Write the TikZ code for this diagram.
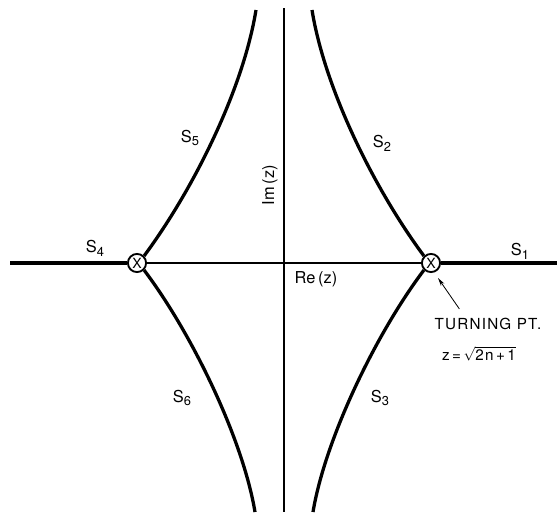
\documentclass[tikz,border=0pt]{standalone}
\usepackage{fontspec}
\setsansfont{TeX Gyre Heros}
\usetikzlibrary{arrows.meta}
\newcommand{\lowsub}[1]{\raisebox{-0.45ex}{\fontsize{11}{12}\selectfont #1}}

\begin{document}
\begin{tikzpicture}[x=0.03cm,y=-0.03cm,font=\sffamily,>=Stealth,
 axis/.style={line width=1pt},
 branch/.style={line width=2.8pt},
 turnpt/.style={draw,circle,line width=1.6pt,fill=white,inner sep=0pt,minimum size=15.5pt,font=\sffamily\fontsize{12}{13}\selectfont},
 sector/.style={font=\sffamily\fontsize{14}{16}\selectfont,inner sep=1pt},
 note/.style={font=\sffamily\fontsize{13}{15}\selectfont\addfontfeatures{LetterSpace=8},inner sep=0pt}]
\useasboundingbox (0,0) rectangle (557,518);
% axes
\coordinate (farL) at (10,263);
\coordinate (farR) at (557,263);
\coordinate (imtop) at (284,8);
\coordinate (imbot) at (284,512);
\draw[axis] (imtop) -- (imbot);
\draw[axis] (farL) -- (farR);
% turning points
\node[turnpt] (tpL) at (137,263) {X};
\node[turnpt] (tpR) at (431,263) {X};
\coordinate (topR) at (312,10);
\coordinate (botR) at (313,512);
\coordinate (topL) at (256,10);
\coordinate (botL) at (255,512);
% Stokes lines
\draw[branch] (farL) -- (tpL.west);
\draw[branch] (tpR.east) -- (farR);
\draw[branch] (tpR.135) .. controls (375,190) and (325,90) .. (topR);
\draw[branch] (tpR.225) .. controls (375,335) and (325,440) .. (botR);
\draw[branch] (tpL.45) .. controls (193,190) and (243,90) .. (topL);
\draw[branch] (tpL.315) .. controls (193,335) and (243,440) .. (botL);
% labels
\node[sector] (s1) at (520,251) {S\lowsub{1}};
\node[sector] (s2) at (382,143) {S\lowsub{2}};
\node[sector] (s3) at (380,398) {S\lowsub{3}};
\node[sector] (s4) at (95,248) {S\lowsub{4}};
\node[sector] (s5) at (190,138) {S\lowsub{5}};
\node[sector] (s6) at (182,398) {S\lowsub{6}};
\node[sector,rotate=90] (imz) at (270,185) {Im\,(z)};
\node[sector] (rez) at (316,279) {Re\,(z)};
\node[note] (turn) at (488,324) {TURNING PT.};
\node[note] (root) at (479,354) {z\,=\,$\sqrt{\mbox{2n\,+\,1}}$};
\coordinate (tip) at (438,278);
\draw[line width=0.7pt,-{Stealth[length=7pt,width=3.5pt]}] ([shift={(25,-9)}]turn.north west) -- (tip);
\end{tikzpicture}
\end{document}
